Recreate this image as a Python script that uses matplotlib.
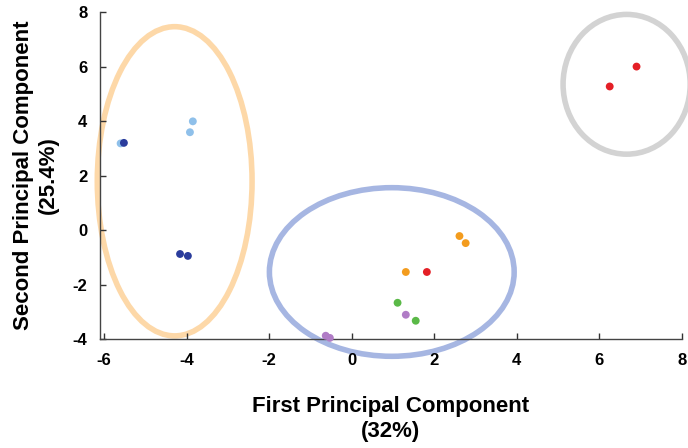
import matplotlib
matplotlib.use('Agg')
import matplotlib.pyplot as plt
from matplotlib.patches import Ellipse

plt.rcParams['font.family'] = ['Liberation Sans', 'DejaVu Sans']
plt.rcParams['axes.unicode_minus'] = False

# PCA scores, grouped by colour
groups = {
    '#8fc0ea': ([-5.60, -3.85, -3.92], [3.18, 3.99, 3.59]),
    '#2a3c9c': ([-5.52, -4.16, -3.97], [3.20, -0.88, -0.95]),
    '#f39c1e': ([2.61, 2.76, 1.31], [-0.22, -0.48, -1.54]),
    '#e41f26': ([1.82, 6.25, 6.90], [-1.54, 5.27, 6.00]),
    '#5ab947': ([1.11, 1.55], [-2.67, -3.33]),
    '#b07cc6': ([1.31, -0.63, -0.53], [-3.11, -3.88, -3.96]),
}

# cluster outlines: centre x, centre y, width, height, colour
clusters = [
    (-4.29, 1.79, 3.75, 11.35, '#fdd8a8'),
    (0.97, -1.54, 5.93, 6.19, '#a6b6e2'),
    (6.66, 5.35, 3.08, 5.13, '#d3d3d3'),
]

x_ticks = [-6, -4, -2, 0, 2, 4, 6, 8]
y_ticks = [-4, -2, 0, 2, 4, 6, 8]

fig = plt.figure(figsize=(6.88, 4.48), dpi=100)
ax = fig.add_axes([0.1453, 0.2433, 0.8459, 0.7297])

for cx, cy, w, h, col in clusters:
    ax.add_patch(Ellipse((cx, cy), w, h, fill=False, edgecolor=col,
                         linewidth=4, clip_on=False, zorder=1))

for col, (xs, ys) in groups.items():
    ax.scatter(xs, ys, s=32, color=col, edgecolors='none', zorder=3, clip_on=False)

ax.set_xlim(-6.1, 8)
ax.set_ylim(-4, 8)
ax.set_xticks(x_ticks)
ax.set_yticks(y_ticks)
ax.tick_params(direction='in', length=4, width=1, colors='#333333',
               labelsize=12, labelcolor='black')
ax.tick_params(axis='x', pad=10)
ax.tick_params(axis='y', pad=9)
for lab in ax.get_xticklabels() + ax.get_yticklabels():
    lab.set_fontweight('bold')

for s in ['top', 'right']:
    ax.spines[s].set_visible(False)
for s in ['left', 'bottom']:
    ax.spines[s].set_color('#444444')
    ax.spines[s].set_linewidth(1)

ax.set_xlabel('First Principal Component\n(32%)', fontsize=16,
              fontweight='bold', labelpad=20, linespacing=1.25)
ax.set_ylabel('Second Principal Component\n(25.4%)', fontsize=16,
              fontweight='bold', labelpad=10, linespacing=1.25)

fig.savefig('out.png', dpi=100)
